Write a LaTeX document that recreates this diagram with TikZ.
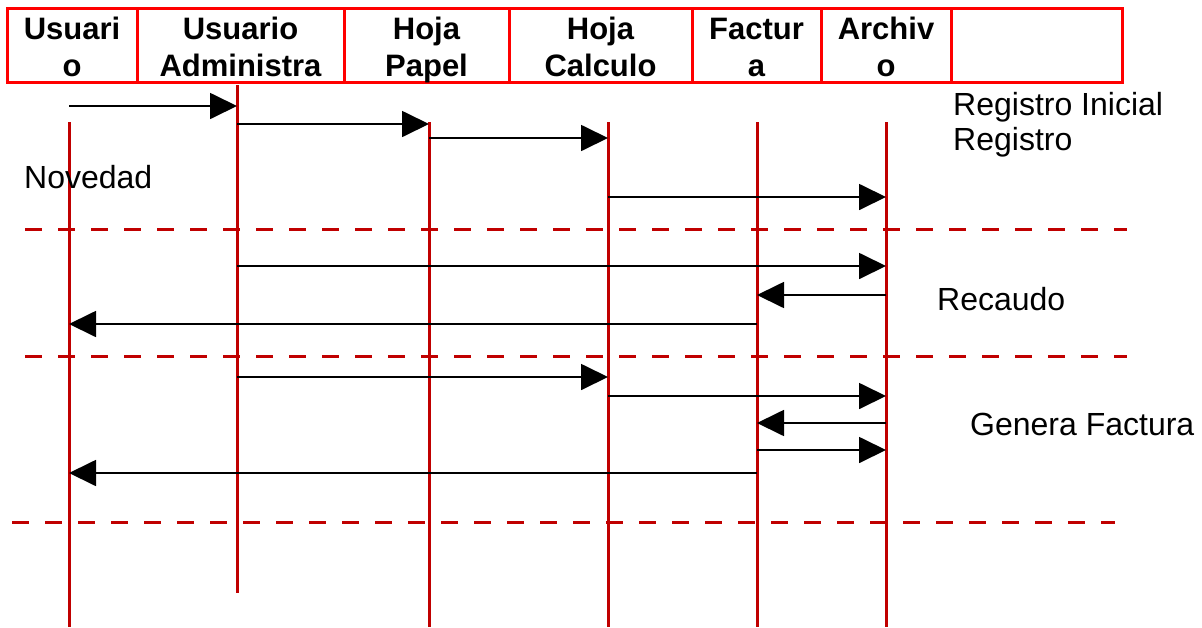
\documentclass[tikz,border=0pt]{standalone}
\usepackage{fontspec}
\setmainfont{Liberation Sans}
\usetikzlibrary{arrows.meta}
\definecolor{lifered}{RGB}{192,0,0}
\newcommand\hstrut{\rule[-6.5pt]{0pt}{37pt}}
\tikzset{
  cell/.style={draw=red, line width=3pt, minimum height=74.5pt, inner sep=0pt,
    font=\bfseries\fontsize{31}{37}\selectfont, align=center},
  lifeline/.style={draw=lifered, line width=3pt},
  msg/.style={draw=black, line width=1.8pt, -{Triangle[length=27pt,width=26pt]}},
  sepline/.style={draw=lifered, line width=3pt, dash pattern=on 17pt off 16pt},
  lbl/.style={font=\fontsize{32}{38}\selectfont, inner sep=0pt, anchor=base west}
}
\begin{document}
\begin{tikzpicture}[x=1pt, y=-1pt]
\useasboundingbox (0,0) rectangle (1202,627);

% Header cells
\foreach \name/\cx/\w/\txt in {h1/72/130/{Usuari\\o}, h2/240.5/207/{Usuario\\Administra},
    h3/426.5/165/{Hoja\\Papel}, h4/600.5/183/{Hoja\\Calculo}, h5/756.5/129/{Factur\\a},
    h6/886/130/{Archiv\\o}, h7/1036.5/171/{}} {
  \node[cell, minimum width=\w pt] (\name) at (\cx,45.5) {\hstrut\txt\hstrut};
}

% Lifelines
\foreach \name/\x/\top/\bot in {usr/69/122/627, adm/237/85/593, pap/429/122/627,
    cal/608/122/627, fac/757/122/627, arc/886/122/627} {
  \coordinate (\name) at (\x,\top);
  \coordinate (\name-end) at (\x,\bot);
  \draw[lifeline] (\name) -- (\name-end);
}

% Separators
\draw[sepline] (25,229) -- (1127,229);
\draw[sepline] (25,356) -- (1127,356);
\draw[sepline] (12,522) -- (1115,522);

% Messages
\foreach \a/\b/\y in {usr/adm/106, adm/pap/124, pap/cal/138, cal/arc/197,
    adm/arc/266, arc/fac/295, fac/usr/324,
    adm/cal/377, cal/arc/396, arc/fac/423, fac/arc/450, fac/usr/473} {
  \draw[msg] (\a |- 0,\y) -- (\b |- 0,\y);
}

% Labels
\node[lbl] (reginicial) at (953,115) {Registro Inicial};
\node[lbl] (registro) at (953,150) {Registro};
\node[lbl] (novedad) at (24,188) {Novedad};
\node[lbl] (recaudo) at (937,310) {Recaudo};
\node[lbl] (genera) at (970,435) {Genera Factura};
\end{tikzpicture}
\end{document}
